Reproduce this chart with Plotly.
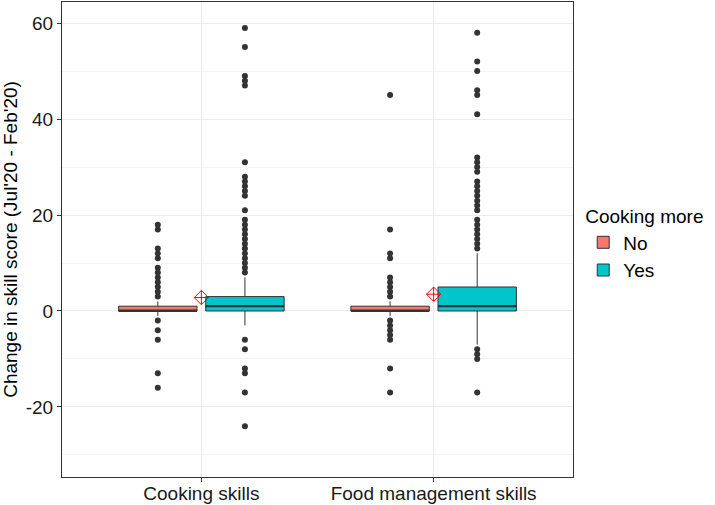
import plotly.graph_objects as go

# ---------------- data ----------------
categories = ["Cooking skills", "Food management skills"]
groups = ["No", "Yes"]
legend_title = "Cooking more"
y_title = "Change in skill score (Jul'20 - Feb'20)"

# precomputed box statistics, one value per category
no_q1 = [0, 0]
no_median = [0, 0]
no_q3 = [1, 1]
no_lowerfence = [-1, -1]
no_upperfence = [2, 2]

yes_q1 = [0, 0]
yes_median = [1, 1]
yes_q3 = [3, 5]
yes_lowerfence = [-3, -7]
yes_upperfence = [7, 12]

no_outliers_cooking = [18, 17, 13, 12, 11, 9, 8, 7, 6, 5, 4, 3, -2, -4, -6, -13, -16]
no_outliers_food = [45, 17, 12, 11, 7, 6, 5, 4, 3, -2, -3, -4, -5, -6, -12, -17]
yes_outliers_cooking = [59, 55, 49, 48, 47, 31, 28, 27, 26, 25, 24, 21,
                        19, 18, 17, 16, 15, 14, 13, 12, 11, 10, 9, 8,
                        -6, -8, -12, -13, -17, -24]
yes_outliers_food = [58, 52, 50, 46, 45, 41, 32, 31, 30, 29,
                     27, 26, 25, 24, 23, 22, 21,
                     19, 18, 17, 16, 15, 14, 13,
                     -8, -9, -10, -17]

group_means = [2.8, 3.5]

y_ticks = [-20, 0, 20, 40, 60]
y_tick_labels = ["-20", "0", "20", "40", "60"]

# ---------------- styling ----------------
colors = {"No": "#F8766D", "Yes": "#00C5CB"}
line_col = "#333333"
dodge = 0.1875
box_w = 0.3375
FONT = "Liberation Sans, Arial, sans-serif"
FS = 19

stats = {
    "No": (no_q1, no_median, no_q3, no_lowerfence, no_upperfence,
           [no_outliers_cooking, no_outliers_food]),
    "Yes": (yes_q1, yes_median, yes_q3, yes_lowerfence, yes_upperfence,
            [yes_outliers_cooking, yes_outliers_food]),
}
offsets = {"No": -dodge, "Yes": dodge}
cat_pos = [i + 1 for i in range(len(categories))]

fig = go.Figure()
for g in groups:
    q1, med, q3, lo, hi, outs = stats[g]
    xs = [p + offsets[g] for p in cat_pos]
    fig.add_trace(go.Box(
        x=xs, q1=q1, median=med, q3=q3, lowerfence=lo, upperfence=hi,
        width=box_w, name=g, fillcolor=colors[g],
        line=dict(color=line_col, width=1), whiskerwidth=0,
        boxpoints=False, showlegend=True, legendgroup=g,
    ))
    # thicker median lines (ggplot fatten)
    for x, m in zip(xs, med):
        fig.add_trace(go.Scatter(
            x=[x - box_w / 2, x + box_w / 2], y=[m, m], mode="lines",
            line=dict(color=line_col, width=2.2), showlegend=False,
            hoverinfo="skip", legendgroup=g,
        ))
    # outliers
    for x, o in zip(xs, outs):
        fig.add_trace(go.Scatter(
            x=[x] * len(o), y=o, mode="markers",
            marker=dict(color=line_col, size=6), showlegend=False,
            legendgroup=g,
        ))

# group means
fig.add_trace(go.Scatter(
    x=cat_pos, y=group_means, mode="markers",
    marker=dict(symbol="diamond-cross-open", color="red", size=11,
                line=dict(width=1, color="red")),
    showlegend=False,
))

fig.update_layout(
    width=715, height=505,
    margin=dict(l=62, r=142, t=2, b=28, autoexpand=False),
    paper_bgcolor="white", plot_bgcolor="white",
    font=dict(family=FONT, size=FS, color="black"),
    legend=dict(
        title=dict(text=legend_title, font=dict(size=FS, color="black")),
        x=1.02, xanchor="left", y=0.49, yanchor="middle",
        font=dict(size=FS, color="black"), tracegroupgap=0,
    ),
    showlegend=True,
)
fig.update_xaxes(
    range=[0.4, 2.6], tickvals=cat_pos, ticktext=categories,
    showgrid=True, gridcolor="#EBEBEB", gridwidth=1,
    showline=True, linecolor=line_col, linewidth=1, mirror=True,
    ticks="outside", ticklen=4, tickcolor=line_col,
    tickfont=dict(size=FS, color="#1a1a1a"), zeroline=False,
    ticklabelstandoff=-5,
    automargin=False,
)
fig.update_yaxes(
    range=[-34.6, 64.4], tickvals=y_ticks, ticktext=y_tick_labels,
    showgrid=True, gridcolor="#EBEBEB", gridwidth=1,
    minor=dict(tickvals=[-30, -10, 10, 30, 50], showgrid=True,
               gridcolor="#F3F3F3", gridwidth=1, ticks=""),
    showline=True, linecolor=line_col, linewidth=1, mirror=True,
    ticks="outside", ticklen=4, tickcolor=line_col,
    tickfont=dict(size=FS, color="#1a1a1a"), zeroline=False,
    title=dict(text=y_title, font=dict(size=FS, color="black"), standoff=4),
    automargin=False,
)

fig.write_html("out.html",
               config={"displayModeBar": False},
               post_script="document.body.style.margin='0';document.body.style.padding='0';")
